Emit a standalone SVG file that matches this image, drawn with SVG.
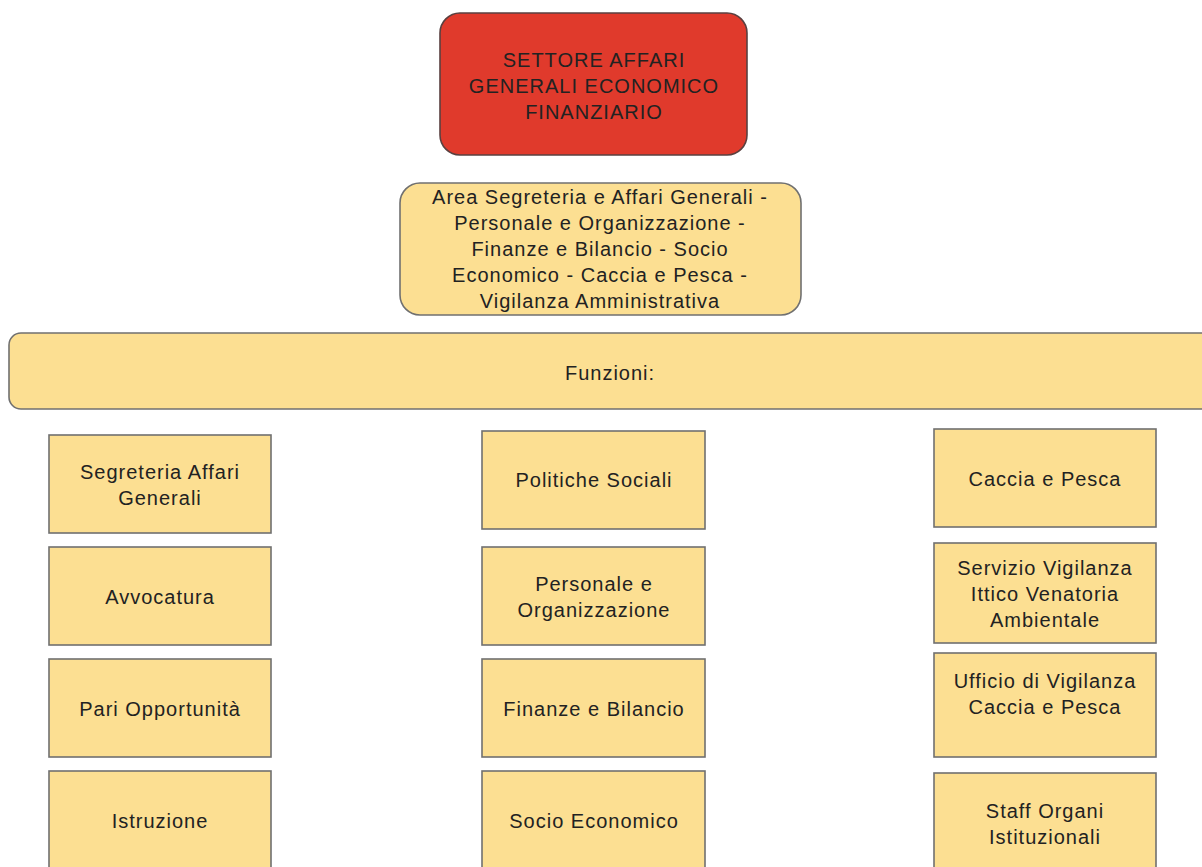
<svg xmlns="http://www.w3.org/2000/svg" width="1202" height="867" viewBox="0 0 1202 867">
<style>
.y{fill:#fcdf92;stroke:#707070;stroke-width:1.6}
.r{fill:#e03a2c;stroke:#5a4040;stroke-width:1.6}
text{font-family:"Liberation Sans",Arial,sans-serif;font-size:20px;letter-spacing:1px;fill:#222;text-anchor:middle}
</style>
<rect width="1202" height="867" fill="#ffffff"/>
<g id="connectors"></g>
<g id="settore">
<rect class="r" x="440" y="13" width="307" height="142" rx="20"/>
<text x="594" y="67">SETTORE AFFARI</text>
<text x="594" y="93">GENERALI ECONOMICO</text>
<text x="594" y="119">FINANZIARIO</text>
</g>
<g id="area">
<rect class="y" x="400" y="183" width="401" height="132" rx="20"/>
<text x="600" y="204">Area Segreteria e Affari Generali -</text>
<text x="600" y="230">Personale e Organizzazione -</text>
<text x="600" y="256">Finanze e Bilancio - Socio</text>
<text x="600" y="282">Economico - Caccia e Pesca -</text>
<text x="600" y="308">Vigilanza Amministrativa</text>
</g>
<g id="funzioni">
<rect class="y" x="9" y="333" width="1210" height="76" rx="12"/>
<text x="610" y="380">Funzioni:</text>
</g>
<g id="segreteria">
<rect class="y" x="49" y="435" width="222" height="98"/>
<text x="160" y="479">Segreteria Affari</text>
<text x="160" y="505">Generali</text>
</g>
<g id="avvocatura">
<rect class="y" x="49" y="547" width="222" height="98"/>
<text x="160" y="604">Avvocatura</text>
</g>
<g id="pari">
<rect class="y" x="49" y="659" width="222" height="98"/>
<text x="160" y="716">Pari Opportunità</text>
</g>
<g id="istruzione">
<rect class="y" x="49" y="771" width="222" height="110"/>
<text x="160" y="828">Istruzione</text>
</g>
<g id="politiche">
<rect class="y" x="482" y="431" width="223" height="98"/>
<text x="594" y="487">Politiche Sociali</text>
</g>
<g id="personale">
<rect class="y" x="482" y="547" width="223" height="98"/>
<text x="594" y="591">Personale e</text>
<text x="594" y="617">Organizzazione</text>
</g>
<g id="finanze">
<rect class="y" x="482" y="659" width="223" height="98"/>
<text x="594" y="716">Finanze e Bilancio</text>
</g>
<g id="socio">
<rect class="y" x="482" y="771" width="223" height="110"/>
<text x="594" y="828">Socio Economico</text>
</g>
<g id="caccia">
<rect class="y" x="934" y="429" width="222" height="98"/>
<text x="1045" y="486">Caccia e Pesca</text>
</g>
<g id="servizio">
<rect class="y" x="934" y="543" width="222" height="100"/>
<text x="1045" y="575">Servizio Vigilanza</text>
<text x="1045" y="601">Ittico Venatoria</text>
<text x="1045" y="627">Ambientale</text>
</g>
<g id="ufficio">
<rect class="y" x="934" y="653" width="222" height="104"/>
<text x="1045" y="688">Ufficio di Vigilanza</text>
<text x="1045" y="714">Caccia e Pesca</text>
</g>
<g id="staff">
<rect class="y" x="934" y="773" width="222" height="110"/>
<text x="1045" y="818">Staff Organi</text>
<text x="1045" y="844">Istituzionali</text>
</g>
</svg>
